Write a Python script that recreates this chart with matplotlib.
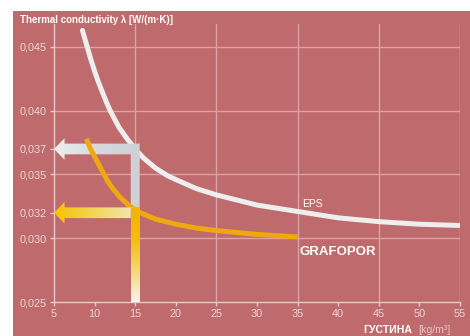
import numpy as np
import matplotlib
matplotlib.use('Agg')
import matplotlib.pyplot as plt
from matplotlib.patches import Polygon, Rectangle
from matplotlib.colors import LinearSegmentedColormap

plt.rcParams['font.family'] = ['Liberation Sans', 'DejaVu Sans']

# curves
eps_x = [8.5, 9, 9.5, 10, 10.5, 11, 11.5, 12, 13, 14, 15, 16, 17.5, 19, 20,
         22.5, 25, 27.5, 30, 35, 40, 45, 50, 55]
eps_y = [0.0463, 0.0452, 0.0441, 0.0431, 0.0422, 0.0414, 0.0406, 0.0399, 0.0387,
         0.0378, 0.0370, 0.0363, 0.0355, 0.0349, 0.0346, 0.0339, 0.0334, 0.0330,
         0.0326, 0.0321, 0.0316, 0.0313, 0.0311, 0.0310]
graf_x = [9, 9.5, 10, 10.5, 11, 11.5, 12, 13, 14, 15, 16, 17.5, 20, 22.5, 25, 30, 35]
graf_y = [0.0378, 0.0370, 0.0364, 0.0358, 0.0352, 0.0346, 0.0341, 0.0333, 0.0327,
          0.0322, 0.0319, 0.0315, 0.0311, 0.0308, 0.0306, 0.0303, 0.0301]

x_ticks = [5, 10, 15, 20, 25, 30, 35, 40, 45, 50, 55]
y_ticks = [0.025, 0.030, 0.032, 0.035, 0.037, 0.040, 0.045]
y_labels = ['0,025', '0,030', '0,032', '0,035', '0,037', '0,040', '0,045']
grid_x = [15, 25, 35, 45, 55]
grid_y = [0.030, 0.035, 0.040, 0.045]

read_x = 15        # density read-out
read_eps = 0.037
read_graf = 0.032

bg = '#bf6a6c'
grid_c = '#dba3a4'
lab_c = '#efd6d6'

fig = plt.figure(figsize=(4.7, 3.36), dpi=100)
fig.patch.set_facecolor('white')
fig.add_artist(Rectangle((13/470, 0), 457/470, 325/336, transform=fig.transFigure,
                         facecolor=bg, edgecolor='none', zorder=0))

ax = fig.add_axes([54/470, 1 - 302/336, 406/470, 278/336])
ax.set_facecolor('none')

for gx in grid_x:
    ax.axvline(gx, color=grid_c, lw=1, zorder=1)
for gy in grid_y:
    ax.axhline(gy, color=grid_c, lw=1, zorder=1)


def grad_patch(verts, colors, horizontal, z):
    poly = Polygon(verts, closed=True, facecolor='none', edgecolor='none')
    ax.add_patch(poly)
    xs = [v[0] for v in verts]
    ys = [v[1] for v in verts]
    cmap = LinearSegmentedColormap.from_list('g', colors)
    g = np.linspace(0, 1, 100)
    img = g[None, :] if horizontal else g[:, None]
    im = ax.imshow(img, cmap=cmap, extent=[min(xs), max(xs), min(ys), max(ys)],
                   origin='lower', aspect='auto', zorder=z, interpolation='bilinear')
    im.set_clip_path(poly)


w = 0.55      # half width of the vertical bar (x units)
h = 0.00042   # half height of shafts
H = 0.00085   # half height of arrow heads
L = 1.3       # head length (x units)
x0 = x_ticks[0]
y0 = y_ticks[0]

# white arrow: up from the axis to EPS, then left
white_arrow = [(x0, read_eps), (x0 + L, read_eps + H), (x0 + L, read_eps + h),
               (read_x + w, read_eps + h), (read_x + w, read_graf),
               (read_x - w, read_graf), (read_x - w, read_eps - h),
               (x0 + L, read_eps - h), (x0 + L, read_eps - H)]
grad_patch(white_arrow, ['#eeeeee', '#d8d9dd', '#cfd0d5'], True, 3)

ax.plot(eps_x, eps_y, color='#eeeeee', lw=3.6, solid_capstyle='round',
        solid_joinstyle='round', zorder=2)
ax.plot(graf_x, graf_y, color='#f0a812', lw=3.6, solid_capstyle='butt',
        solid_joinstyle='round', zorder=4)

# lower part of the bar, white to yellow
bar = [(read_x - w, y0), (read_x + w, y0), (read_x + w, read_graf + h),
       (read_x - w, read_graf + h)]
grad_patch(bar, ['#f6f3f0', '#f6d870', '#f4bc10', '#f4b400'], False, 5)

# yellow arrow to the left
yellow_arrow = [(x0, read_graf), (x0 + L, read_graf + H), (x0 + L, read_graf + h),
                (read_x - w, read_graf + h), (read_x - w, read_graf - h),
                (x0 + L, read_graf - h), (x0 + L, read_graf - H)]
grad_patch(yellow_arrow, ['#f6c200', '#f4d550', '#f2e6b0'], True, 5)

ax.text(35.6, 0.0327, 'EPS', color='white', fontsize=7.5, ha='left', va='center', zorder=6)
ax.text(35.2, 0.0289, 'GRAFOPOR', color='white', fontsize=9.5, fontweight='bold',
        ha='left', va='center', zorder=6)

ax.set_xlim(5, 55)
ax.set_ylim(0.025, 0.0468)
ax.set_xticks(x_ticks)
ax.set_xticklabels([str(t) for t in x_ticks])
ax.set_yticks(y_ticks)
ax.set_yticklabels(y_labels)
for s in ['top', 'right']:
    ax.spines[s].set_visible(False)
for s in ['left', 'bottom']:
    ax.spines[s].set_color('#ecc9c9')
    ax.spines[s].set_linewidth(1)
ax.tick_params(colors='#ecc9c9', labelcolor=lab_c, labelsize=7.8, length=3, width=1, pad=2)

fig.text(20/470, 1 - 20/336, 'Thermal conductivity λ [W/(m·K)]', color='white',
         fontsize=7, fontweight='bold', ha='left', va='center')
fig.text(363/470, 1 - 330/336, 'ГУСТИНА', color='white', fontsize=7.6,
         fontweight='bold', ha='left', va='center')
fig.text(418/470, 1 - 330/336, '[kg/m³]', color='#e8c6c6', fontsize=7.6,
         ha='left', va='center')

fig.savefig('out.png', dpi=100, facecolor='white')
